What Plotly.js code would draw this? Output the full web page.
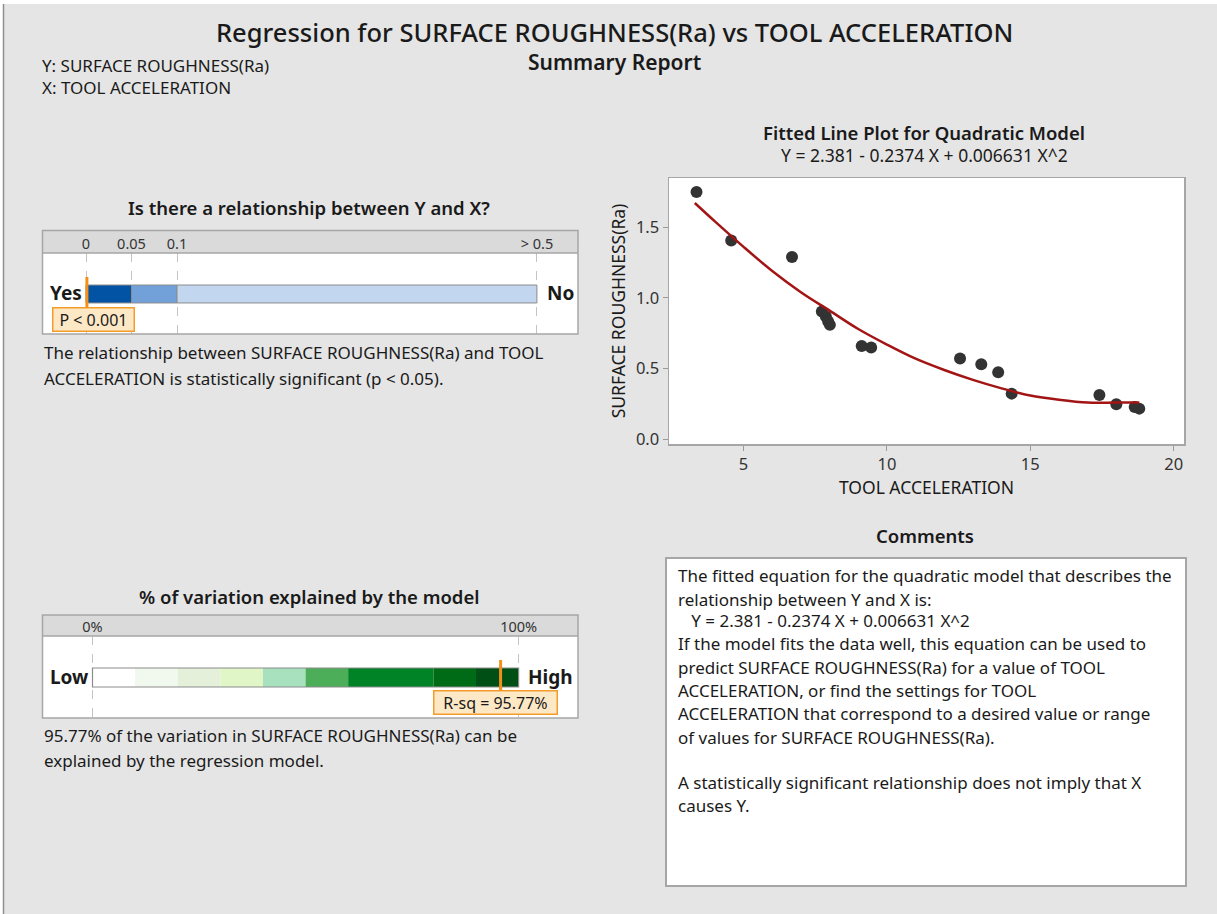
<!DOCTYPE html>
<html>
<head>
<meta charset="utf-8">
<script src="https://cdn.plot.ly/plotly-3.0.1.min.js"></script>
<style>html,body{margin:0;padding:0;background:#e5e5e5;}#chart{width:1217px;height:914px;}</style>
</head>
<body>
<div id="chart"></div>
<script>
// ---- data ----
const toolAccel = [3.36, 4.57, 6.69, 7.73, 7.87, 7.95, 8.01, 9.12, 9.45, 12.55, 13.29, 13.88, 14.35, 17.41, 18.0, 18.64, 18.8];
const roughness = [1.748, 1.406, 1.288, 0.903, 0.868, 0.833, 0.809, 0.660, 0.649, 0.571, 0.531, 0.474, 0.323, 0.314, 0.248, 0.229, 0.217];
const fitX = [3.3, 4, 5, 6, 7, 8, 9, 10, 11, 12, 13, 14, 15, 16, 17, 18, 18.8];
const fitY = [1.67, 1.54, 1.36, 1.19, 1.04, 0.91, 0.78, 0.67, 0.57, 0.49, 0.42, 0.36, 0.31, 0.28, 0.26, 0.26, 0.26];
const xTicks = [5, 10, 15, 20];
const yTicks = [0.0, 0.5, 1.0, 1.5];
const yTickLabels = ['0.0', '0.5', '1.0', '1.5'];

const pBounds = [0, 0.05, 0.1, 0.5];
const pTickLabels = ['0', '0.05', '0.1', '> 0.5'];
const pColors = ['#0353a4', '#72a0d9', '#c2d6ef'];
const pValue = 0.001;

const rBounds = [0, 10, 20, 30, 40, 50, 60, 80, 90, 100];
const rColors = ['#ffffff', '#f1f8ee', '#e4f0d9', '#e1f6c6', '#a7e1bd', '#4cae59', '#008226', '#006b17', '#004f15'];
const rTickVals = [0, 100];
const rTickLabels = ['0%', '100%'];
const rSq = 95.77;

// ---- helpers ----
const W = 1217, H = 914;
const px = x => x / W;
const py = y => 1 - y / H;
// p-value axis: linear 0..0.1 then compressed 0.1..0.5
function pPos(p) { return p <= 0.1 ? p / 0.05 : 2 + (p - 0.1) / 0.4 * 7.91; }

const FONT = 'Noto Sans, sans-serif';
const TXT = '#1a1a1a';

const traces = [];
// scatter
traces.push({type:'scatter', mode:'markers', x: toolAccel, y: roughness, xaxis:'x', yaxis:'y',
  marker:{size:12, color:'#333333'}, hoverinfo:'skip'});
traces.push({type:'scatter', mode:'lines', x: fitX, y: fitY, xaxis:'x', yaxis:'y',
  line:{color:'#a31515', width:2.5, shape:'spline'}, hoverinfo:'skip'});

// p-value bar
const pStarts = [], pWidths = [];
for (let i = 0; i < pBounds.length - 1; i++) { pStarts.push(pPos(pBounds[i])); pWidths.push(pPos(pBounds[i+1]) - pPos(pBounds[i])); }
traces.push({type:'bar', orientation:'h', x: pWidths, base: pStarts, y: pWidths.map(() => 0.494), width: 0.222,
  xaxis:'x2', yaxis:'y2', marker:{color: pColors, line:{color:'#8c8c8c', width:1}}, hoverinfo:'skip'});
traces.push({type:'scatter', mode:'lines', x:[pPos(pValue), pPos(pValue)], y:[0.309, 0.704], xaxis:'x2', yaxis:'y2',
  line:{color:'#f39019', width:3}, hoverinfo:'skip'});

// R-sq bar
const rStarts = [], rWidths = [];
for (let i = 0; i < rBounds.length - 1; i++) { rStarts.push(rBounds[i]); rWidths.push(rBounds[i+1] - rBounds[i]); }
traces.push({type:'bar', orientation:'h', x: rWidths, base: rStarts, y: rWidths.map(() => 0.494), width: 0.232,
  xaxis:'x3', yaxis:'y3', marker:{color: rColors, line:{color:'#8c8c8c', width:0}}, hoverinfo:'skip'});
// outline of the R bar
traces.push({type:'bar', orientation:'h', x: [rBounds[rBounds.length-1] - rBounds[0]], base: [rBounds[0]], y: [0.494], width: 0.232,
  xaxis:'x3', yaxis:'y3', marker:{color:'rgba(0,0,0,0)', line:{color:'#8c8c8c', width:1.2}}, hoverinfo:'skip'});
traces.push({type:'scatter', mode:'lines', x:[rSq, rSq], y:[0.28, 0.707], xaxis:'x3', yaxis:'y3',
  line:{color:'#f39019', width:3}, hoverinfo:'skip'});

const ann = [];
function txt(text, x, y, size, opts, weight) {
  ann.push(Object.assign({text, x: px(x), y: py(y), xref:'paper', yref:'paper', showarrow:false,
    xanchor:'center', yanchor:'middle', font:{family:FONT, size, color:TXT, weight: weight || 'normal'}}, opts || {}));
}
// header
txt('Regression for SURFACE ROUGHNESS(Ra) vs TOOL ACCELERATION', 614, 32, 25.5, {}, 500);
txt('Summary Report', 614, 62, 21, {}, 600);
txt('Y: SURFACE ROUGHNESS(Ra)', 40, 65, 17, {xanchor:'left'});
txt('X: TOOL ACCELERATION', 40, 87, 17, {xanchor:'left'});

// p panel
txt('Is there a relationship between Y and X?', 309, 207, 18.5, {}, 600);
txt('Yes', 66, 293, 19, {}, 'bold');
txt('No', 560, 293, 19, {}, 'bold');
txt('P < 0.001', 93, 319, 16, {bgcolor:'#fde8c6', bordercolor:'#f39c2a', borderwidth:1.5, borderpad:0, width:80});
txt('The relationship between SURFACE ROUGHNESS(Ra) and TOOL', 42, 353, 17, {xanchor:'left'});
txt('ACCELERATION is statistically significant (p < 0.05).', 42, 378, 17, {xanchor:'left'});

// R panel
txt('% of variation explained by the model', 309, 596, 18.5, {}, 600);
txt('Low', 69, 677, 19, {}, 'bold');
txt('High', 550, 677, 19, {}, 'bold');
txt('R-sq = 95.77%', 495.5, 702, 16, {bgcolor:'#fde8c6', bordercolor:'#f39c2a', borderwidth:1.5, borderpad:0, width:122});
txt('95.77% of the variation in SURFACE ROUGHNESS(Ra) can be', 42, 735, 17, {xanchor:'left'});
txt('explained by the regression model.', 42, 760, 17, {xanchor:'left'});

// scatter titles
txt('Fitted Line Plot for Quadratic Model', 924, 132, 18.5, {}, 600);
txt('Y = 2.381 - 0.2374 X + 0.006631 X^2', 924, 155, 17.5, {});

// comments
txt('Comments', 925, 535, 18.5, {}, 600);
const commentLines = [
  ['The fitted equation for the quadratic model that describes the', 575],
  ['relationship between Y and X is:', 599],
  ['&nbsp;&nbsp;&nbsp;Y = 2.381 - 0.2374 X + 0.006631 X^2', 620],
  ['If the model fits the data well, this equation can be used to', 643],
  ['predict SURFACE ROUGHNESS(Ra) for a value of TOOL', 667],
  ['ACCELERATION, or find the settings for TOOL', 690],
  ['ACCELERATION that correspond to a desired value or range', 713],
  ['of values for SURFACE ROUGHNESS(Ra).', 737],
  ['A statistically significant relationship does not imply that X', 782],
  ['causes Y.', 805]
];
commentLines.forEach(l => txt(l[0], 676, l[1], 17, {xanchor:'left'}));

const shapes = [
  {type:'rect', xref:'paper', yref:'paper', x0:0, x1:1, y0:py(4), y1:1, fillcolor:'#ffffff', line:{width:0}, layer:'below'},
  {type:'rect', xref:'paper', yref:'paper', x0:0, x1:px(3), y0:0, y1:1, fillcolor:'#ffffff', line:{width:0}, layer:'below'},
  {type:'line', xref:'paper', yref:'paper', x0:px(3.5), x1:px(3.5), y0:0, y1:py(4), line:{color:'#8f8f8f', width:1.5}},
  // p panel header + box
  {type:'rect', xref:'paper', yref:'paper', x0:px(42.5), x1:px(578), y0:py(253), y1:py(230.5), fillcolor:'#dadada', line:{width:0}, layer:'below'},
  {type:'line', xref:'paper', yref:'paper', x0:px(42.5), x1:px(578), y0:py(253), y1:py(253), line:{color:'#a6a6a6', width:1.5}},
  {type:'rect', xref:'paper', yref:'paper', x0:px(42.5), x1:px(578), y0:py(334), y1:py(230.5), line:{color:'#a6a6a6', width:1.5}},
  // R panel header + box
  {type:'rect', xref:'paper', yref:'paper', x0:px(42.5), x1:px(578), y0:py(636), y1:py(615), fillcolor:'#dadada', line:{width:0}, layer:'below'},
  {type:'line', xref:'paper', yref:'paper', x0:px(42.5), x1:px(578), y0:py(636), y1:py(636), line:{color:'#a6a6a6', width:1.5}},
  {type:'rect', xref:'paper', yref:'paper', x0:px(42.5), x1:px(578), y0:py(718), y1:py(615), line:{color:'#a6a6a6', width:1.5}},
  // comments box
  {type:'rect', xref:'paper', yref:'paper', x0:px(666), x1:px(1186), y0:py(886), y1:py(558), fillcolor:'#ffffff', line:{color:'#a6a6a6', width:2}, layer:'below'}
];

const tickFont = {family:FONT, size:16.5, color:'#333'};
const layout = {
  width: W, height: H, margin:{l:0, r:0, t:0, b:0},
  paper_bgcolor:'#e5e5e5', plot_bgcolor:'#ffffff', showlegend:false, barmode:'overlay',
  xaxis:{domain:[px(669), px(1184)], range:[2.4, 20.36], tickvals:xTicks, ticks:'outside', ticklen:5, tickcolor:'#999',
    showgrid:false, zeroline:false, showline:true, mirror:true, linecolor:'#a6a6a6', linewidth:1.5, tickfont:tickFont,
    title:{text:'TOOL ACCELERATION', font:{family:FONT, size:17.5, color:TXT}, standoff:3}, anchor:'y'},
  yaxis:{domain:[py(444), py(178)], range:[-0.033, 1.847], tickvals:yTicks, ticktext:yTickLabels, ticks:'outside', ticklen:5, tickcolor:'#999',
    showgrid:false, zeroline:false, showline:true, mirror:true, linecolor:'#a6a6a6', linewidth:1.5, tickfont:tickFont,
    title:{text:'SURFACE ROUGHNESS(Ra)', font:{family:FONT, size:17.5, color:TXT}, standoff:6}, anchor:'x'},
  xaxis2:{domain:[px(43), px(578)], range:[(43-86)/45.5, (578-86)/45.5], side:'top', anchor:'y2',
    tickvals: pBounds.map(pPos), ticktext: pTickLabels, ticks:'', tickfont:{family:FONT, size:14.5, color:'#333'},
    showgrid:true, gridcolor:'#c4c4c4', griddash:'dash', gridwidth:1, zeroline:false, showline:false},
  yaxis2:{domain:[py(334), py(253)], range:[0, 1], anchor:'x2', showticklabels:false, showgrid:false, zeroline:false, ticks:''},
  xaxis3:{domain:[px(43), px(578)], range:[(43-92.5)/4.261, (578-92.5)/4.261], side:'top', anchor:'y3',
    tickvals: rTickVals, ticktext: rTickLabels, ticks:'', tickfont:{family:FONT, size:14.5, color:'#333'},
    showgrid:true, gridcolor:'#c4c4c4', griddash:'dash', gridwidth:1, zeroline:false, showline:false},
  yaxis3:{domain:[py(718), py(636)], range:[0, 1], anchor:'x3', showticklabels:false, showgrid:false, zeroline:false, ticks:''},
  annotations: ann, shapes: shapes
};

Plotly.newPlot('chart', traces, layout, {staticPlot:true, displayModeBar:false});
</script>
</body>
</html>
